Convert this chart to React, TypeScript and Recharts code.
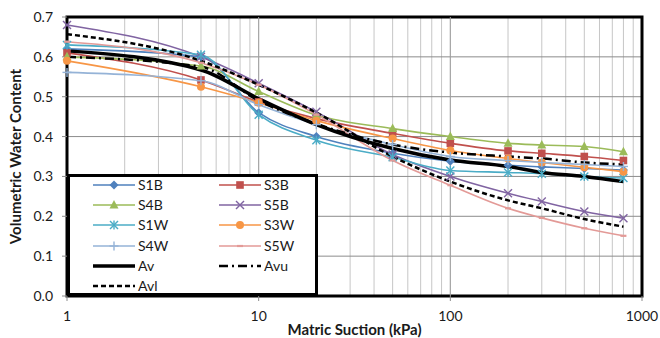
import React from 'react';
import {
  ComposedChart,
  Line,
  XAxis,
  YAxis,
  CartesianGrid,
  ReferenceLine,
  ReferenceArea,
  Legend,
} from 'recharts';

// Matric suction (kPa) at which water content was measured
const SUCTION = [1, 5, 10, 20, 50, 100, 200, 300, 500, 800];

// Volumetric water content per specimen
const S1B = [0.62, 0.6, 0.46, 0.4, 0.358, 0.338, 0.328, 0.324, 0.32, 0.316];
const S3B = [0.61, 0.542, 0.487, 0.445, 0.408, 0.383, 0.364, 0.358, 0.35, 0.34];
const S4B = [0.6, 0.577, 0.513, 0.454, 0.42, 0.4, 0.383, 0.379, 0.375, 0.362];
const S5B = [0.68, 0.6, 0.534, 0.462, 0.355, 0.3, 0.258, 0.237, 0.212, 0.195];
const S1W = [0.63, 0.605, 0.455, 0.391, 0.348, 0.315, 0.31, 0.307, 0.3, 0.296];
const S3W = [0.59, 0.525, 0.485, 0.44, 0.395, 0.365, 0.345, 0.335, 0.323, 0.312];
const S4W = [0.561, 0.54, 0.48, 0.43, 0.38, 0.35, 0.34, 0.335, 0.33, 0.325];
const S5W = [0.638, 0.585, 0.53, 0.455, 0.34, 0.278, 0.22, 0.196, 0.17, 0.151];

// Average curve with upper and lower bounds
const AV = [0.615, 0.567, 0.495, 0.43, 0.37, 0.341, 0.325, 0.31, 0.3, 0.287];
const AVU = [0.6, 0.575, 0.49, 0.432, 0.38, 0.36, 0.35, 0.345, 0.335, 0.33];
const AVL = [0.657, 0.59, 0.53, 0.46, 0.35, 0.287, 0.24, 0.22, 0.193, 0.174];

const Y_TICKS = [0, 0.1, 0.2, 0.3, 0.4, 0.5, 0.6, 0.7];
const X_LABEL_TICKS = [1, 10, 100, 1000];
const X_GRID_TICKS = [
  1, 2, 3, 4, 5, 6, 7, 8, 9,
  10, 20, 30, 40, 50, 60, 70, 80, 90,
  100, 200, 300, 400, 500, 600, 700, 800, 900,
  1000,
];

const FONT = 'Lato, "Open Sans", sans-serif';

type Marker = 'diamond' | 'square' | 'triangle' | 'cross' | 'star' | 'circle' | 'plus' | 'dash' | 'none';

interface SeriesDef {
  key: string;
  values: number[];
  color: string;
  marker: Marker;
  width: number;
  dash?: string;
}

const SERIES: SeriesDef[] = [
  { key: 'S1B', values: S1B, color: '#4F81BD', marker: 'diamond', width: 1.6 },
  { key: 'S3B', values: S3B, color: '#C0504D', marker: 'square', width: 1.6 },
  { key: 'S4B', values: S4B, color: '#9BBB59', marker: 'triangle', width: 1.6 },
  { key: 'S5B', values: S5B, color: '#8064A2', marker: 'cross', width: 1.6 },
  { key: 'S1W', values: S1W, color: '#4BACC6', marker: 'star', width: 1.6 },
  { key: 'S3W', values: S3W, color: '#F79646', marker: 'circle', width: 1.6 },
  { key: 'S4W', values: S4W, color: '#95B3D7', marker: 'plus', width: 1.6 },
  { key: 'S5W', values: S5W, color: '#E39A97', marker: 'dash', width: 1.6 },
  { key: 'Av', values: AV, color: '#000000', marker: 'none', width: 3.5 },
  { key: 'Avu', values: AVU, color: '#000000', marker: 'none', width: 2.5, dash: '9 4 2 4' },
  { key: 'Avl', values: AVL, color: '#000000', marker: 'none', width: 2.5, dash: '5 3' },
];

const rows = SUCTION.map((s, i) => {
  const row: Record<string, number> = { suction: s };
  SERIES.forEach((d) => {
    row[d.key] = d.values[i];
  });
  return row;
});

function drawMarker(marker: Marker, cx: number, cy: number, color: string, key?: string | number) {
  switch (marker) {
    case 'diamond':
      return (
        <polygon key={key} points={`${cx},${cy - 4.5} ${cx + 4.5},${cy} ${cx},${cy + 4.5} ${cx - 4.5},${cy}`} fill={color} />
      );
    case 'square':
      return <rect key={key} x={cx - 3.8} y={cy - 3.8} width={7.6} height={7.6} fill={color} />;
    case 'triangle':
      return (
        <polygon key={key} points={`${cx},${cy - 5} ${cx + 4.5},${cy + 3.5} ${cx - 4.5},${cy + 3.5}`} fill={color} />
      );
    case 'cross':
      return (
        <g key={key} stroke={color} strokeWidth={1.4}>
          <line x1={cx - 4} y1={cy - 4} x2={cx + 4} y2={cy + 4} />
          <line x1={cx - 4} y1={cy + 4} x2={cx + 4} y2={cy - 4} />
        </g>
      );
    case 'star':
      return (
        <g key={key} stroke={color} strokeWidth={1.4}>
          <line x1={cx - 4} y1={cy - 4} x2={cx + 4} y2={cy + 4} />
          <line x1={cx - 4} y1={cy + 4} x2={cx + 4} y2={cy - 4} />
          <line x1={cx} y1={cy - 4.5} x2={cx} y2={cy + 4.5} />
        </g>
      );
    case 'circle':
      return <circle key={key} cx={cx} cy={cy} r={4} fill={color} />;
    case 'plus':
      return (
        <g key={key} stroke={color} strokeWidth={1.4}>
          <line x1={cx - 4.5} y1={cy} x2={cx + 4.5} y2={cy} />
          <line x1={cx} y1={cy - 4.5} x2={cx} y2={cy + 4.5} />
        </g>
      );
    case 'dash':
      return <line key={key} x1={cx - 3} y1={cy} x2={cx + 3} y2={cy} stroke={color} strokeWidth={2.2} />;
    default:
      return <g key={key} />;
  }
}

const XTick = (props: any) => {
  const { x, y, payload } = props;
  const v = payload.value;
  if (!X_LABEL_TICKS.includes(v)) return <g />;
  const axisY = y - 15;
  return (
    <g>
      <line x1={x} y1={axisY} x2={x} y2={axisY + 5} stroke="#8C8C8C" strokeWidth={1} />
      <text x={x} y={y} dy="0.71em" textAnchor="middle" fill="#1a1a1a" fontSize={14} fontFamily={FONT}>
        {v}
      </text>
    </g>
  );
};

const LEGEND_W = 251;
const LEGEND_H = 122;
const BORDER = 3;

const LegendBox = () => (
  <div
    style={{
      position: 'relative',
      width: LEGEND_W,
      height: LEGEND_H,
      boxSizing: 'border-box',
      border: `${BORDER}px solid #000`,
      background: '#fff',
      fontFamily: FONT,
      fontSize: 14,
      color: '#1a1a1a',
    }}
  >
    {SERIES.map((s, i) => {
      const col = i % 2;
      const row = Math.floor(i / 2);
      const cy = 11 + row * 20.2 - BORDER;
      const sx = (col ? 152 : 26) - BORDER;
      const tx = (col ? 197 : 71) - BORDER;
      return (
        <React.Fragment key={s.key}>
          <svg
            width={44}
            height={14}
            style={{ position: 'absolute', left: sx, top: cy - 7, overflow: 'visible' }}
          >
            <line
              x1={0}
              y1={7}
              x2={42}
              y2={7}
              stroke={s.color}
              strokeWidth={s.width}
              strokeDasharray={s.dash}
            />
            {drawMarker(s.marker, 21, 7, s.color)}
          </svg>
          <div
            style={{
              position: 'absolute',
              left: tx,
              top: cy - 9,
              height: 18,
              lineHeight: '18px',
              whiteSpace: 'nowrap',
            }}
          >
            {s.key}
          </div>
        </React.Fragment>
      );
    })}
  </div>
);

export default function App() {
  return (
    <div style={{ position: 'absolute', left: 0, top: 0, width: 660, height: 338, background: '#fff' }}>
      <ComposedChart
        width={660}
        height={338}
        data={rows}
        margin={{ top: 17, right: 18, bottom: 0, left: 0 }}
      >
        <CartesianGrid horizontal={false} stroke="#C6C6C6" strokeWidth={1} />
        <CartesianGrid vertical={false} stroke="#8C8C8C" strokeWidth={1} />
        <ReferenceLine x={10} stroke="#A0A0A0" strokeWidth={1} />
        <ReferenceLine x={100} stroke="#A0A0A0" strokeWidth={1} />
        <XAxis
          dataKey="suction"
          type="number"
          scale="log"
          domain={[1, 1000]}
          ticks={X_GRID_TICKS}
          interval={0}
          height={42}
          tickSize={5}
          tickMargin={10}
          axisLine={false}
          tickLine={false}
          tick={<XTick />}
          label={{
            value: 'Matric Suction (kPa)',
            position: 'insideBottom',
            offset: 3,
            style: { fontFamily: FONT, fontWeight: 700, fontSize: 15, fill: '#1a1a1a' },
          }}
        />
        <YAxis
          type="number"
          domain={[0, 0.7]}
          ticks={Y_TICKS}
          width={67}
          tickSize={5}
          tickMargin={9}
          axisLine={false}
          tickLine={{ stroke: '#8C8C8C' }}
          tickFormatter={(v: number) => v.toFixed(1)}
          tick={{ fontFamily: FONT, fontSize: 14, fill: '#1a1a1a' }}
          label={{
            value: 'Volumetric Water Content',
            angle: -90,
            position: 'insideLeft',
            offset: 16,
            style: { fontFamily: FONT, fontWeight: 700, fontSize: 15, fill: '#1a1a1a', textAnchor: 'middle' },
          }}
        />
        {SERIES.map((s) => (
          <Line
            key={s.key}
            dataKey={s.key}
            name={s.key}
            type="monotone"
            stroke={s.color}
            strokeWidth={s.width}
            strokeDasharray={s.dash}
            isAnimationActive={false}
            dot={
              s.marker === 'none'
                ? false
                : (p: any) => drawMarker(s.marker, p.cx, p.cy, s.color, `${s.key}-${p.index}`)
            }
            activeDot={false}
          />
        ))}
        <ReferenceArea
          x1={1}
          x2={1000}
          y1={0}
          y2={0.7}
          fill="none"
          fillOpacity={0}
          stroke="#000"
          strokeWidth={3}
          ifOverflow="visible"
        />
        <Legend
          layout="vertical"
          align="center"
          verticalAlign="middle"
          content={<LegendBox />}
          wrapperStyle={{ left: 67, top: 174, width: LEGEND_W, height: LEGEND_H, margin: 0, padding: 0 }}
        />
      </ComposedChart>
    </div>
  );
}
